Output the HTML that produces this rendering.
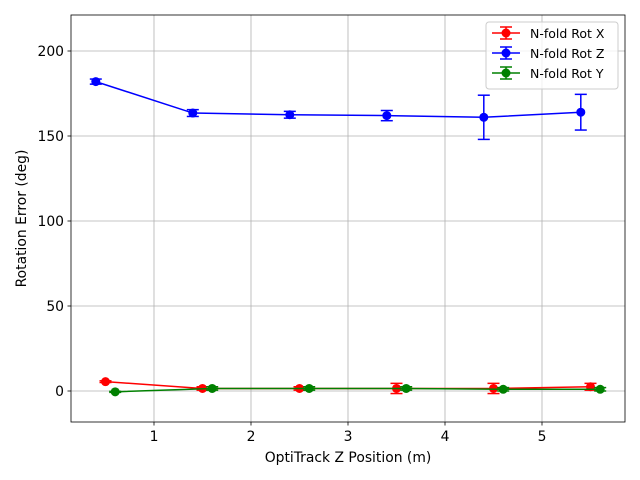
<!DOCTYPE html>
<html><head><meta charset="utf-8"><style>body{margin:0;background:#fff}svg{display:block;font-family:"DejaVu Sans","Liberation Sans",sans-serif}</style></head>
<body>
<svg id="chart" width="640" height="480"></svg>
<script>
const xTicks=[1,2,3,4,5];
const yTicks=[0,50,100,150,200];
const zX=[0.4,1.4,2.4,3.4,4.4,5.4];
const zY=[182,163.5,162.5,162,161,164];
const zE=[1.5,2,2,3,13,10.5];
const xX=[0.5,1.5,2.5,3.5,4.5,5.5];
const xY=[5.5,1.5,1.5,1.5,1.5,2.5];
const xE=[0.5,1,1,3,3,2];
const yX=[0.6,1.6,2.6,3.6,4.6,5.6];
const yY=[-0.5,1.5,1.5,1.5,1,1];
const yE=[0.3,1,1,1,1,1];
const L=71,R=625,T=15,B=422;
const FS=13.9;
const sx=v=>57+97*v, sy=v=>391-1.7*v;
const svg=document.getElementById('chart');
const NS='http://www.w3.org/2000/svg';
function mk(t,a,p){const e=document.createElementNS(NS,t);for(const k in a)e.setAttribute(k,a[k]);(p||svg).appendChild(e);return e;}
xTicks.forEach(v=>{const x=sx(v);
const g=mk('line',{x1:x,x2:x,y1:T,y2:B,stroke:'#b0b0b0','stroke-width':0.8});

mk('line',{x1:x,x2:x,y1:B,y2:B+3.5,stroke:'#000','stroke-width':0.8});
const t=mk('text',{x:x,y:B+19,'text-anchor':'middle','font-size':FS});t.textContent=v;
});
yTicks.forEach(v=>{const y=sy(v);
const g=mk('line',{x1:L,x2:R,y1:y,y2:y,stroke:'#b0b0b0','stroke-width':0.8});

mk('line',{x1:L-3.5,x2:L,y1:y,y2:y,stroke:'#000','stroke-width':0.8});
const t=mk('text',{x:L-7,y:y+5,'text-anchor':'end','font-size':FS});t.textContent=v;
});
function series(xs,ys,es,c,name){
const g=mk('g',{});
mk('polyline',{points:xs.map((x,i)=>sx(x)+','+sy(ys[i])).join(' '),fill:'none',stroke:c,'stroke-width':1.5},g);
xs.forEach((x,i)=>{const px=sx(x),a=sy(ys[i]+es[i]),b=sy(ys[i]-es[i]);
mk('line',{x1:px,x2:px,y1:a,y2:b,stroke:c,'stroke-width':1.5},g);
mk('line',{x1:px-6,x2:px+6,y1:a,y2:a,stroke:c,'stroke-width':1.5},g);
mk('line',{x1:px-6,x2:px+6,y1:b,y2:b,stroke:c,'stroke-width':1.5},g);
const p=mk('circle',{cx:px,cy:sy(ys[i]),r:4.5,fill:c},g);
});}
series(xX,xY,xE,'#ff0000','series-rot-x');
series(zX,zY,zE,'#0000ff','series-rot-z');
series(yX,yY,yE,'#008000','series-rot-y');
mk('rect',{x:L,y:T,width:R-L,height:B-T,fill:'none',stroke:'#000','stroke-width':0.8});
let t=mk('text',{x:(L+R)/2,y:462,'text-anchor':'middle','font-size':FS});t.textContent='OptiTrack Z Position (m)';

t=mk('text',{x:26,y:(T+B)/2,'text-anchor':'middle','font-size':FS,transform:'rotate(-90 26 '+(T+B)/2+')'});t.textContent='Rotation Error (deg)';

const lg=mk('g',{});
mk('rect',{x:486,y:22,width:132,height:67,rx:3,fill:'#fff','fill-opacity':0.8,stroke:'#ccc'},lg);
[['N-fold Rot X','#ff0000'],['N-fold Rot Z','#0000ff'],['N-fold Rot Y','#008000']].forEach((d,i)=>{
const y=33+i*20;const e=mk('g',{},lg);
mk('line',{x1:492,x2:520,y1:y,y2:y,stroke:d[1],'stroke-width':1.5},e);
mk('line',{x1:506,x2:506,y1:y-6,y2:y+6,stroke:d[1],'stroke-width':1.5},e);
mk('line',{x1:500,x2:512,y1:y-6,y2:y-6,stroke:d[1],'stroke-width':1.5},e);
mk('line',{x1:500,x2:512,y1:y+6,y2:y+6,stroke:d[1],'stroke-width':1.5},e);
mk('circle',{cx:506,cy:y,r:4.5,fill:d[1]},e);
const tt=mk('text',{x:530,y:y+5,'font-size':12.5},e);tt.textContent=d[0];});
</script>
</body></html>
